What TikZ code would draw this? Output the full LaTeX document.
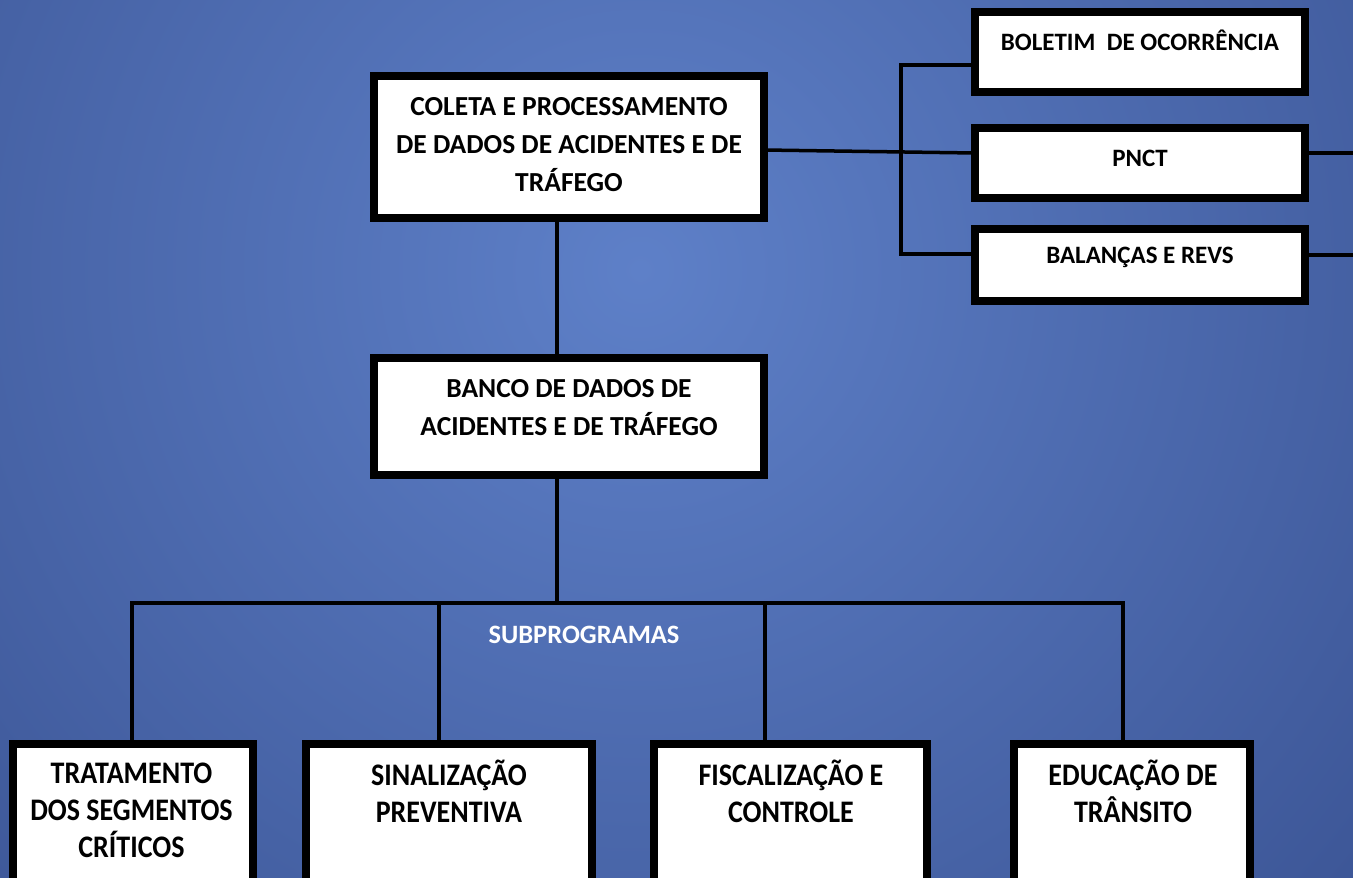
\documentclass[tikz,border=0pt]{standalone}
\usepackage{fontspec}
\setmainfont{Carlito}
\definecolor{bgin}{RGB}{94,128,200}
\definecolor{bgout}{RGB}{34,53,112}
\tikzset{
  box/.style={inner sep=0pt, outer sep=0pt},
  boxdraw/.style={draw=black, line width=8pt, fill=white},
  lbl/.style={font=\bfseries\fontsize{27.5}{38}\selectfont, align=center, text=black, inner sep=0pt},
  smalllbl/.style={font=\bfseries\fontsize{25}{30}\selectfont, align=center, text=black, inner sep=0pt},
  bottomlbl/.style={font=\bfseries\fontsize{28}{33}\selectfont, align=center, text=black, inner sep=0pt, yscale=1.12, transform shape},
  sublbl/.style={font=\bfseries\fontsize{26.5}{30}\selectfont, text=white, inner sep=0pt},
  conn/.style={draw=black, line width=3.5pt},
}
\begin{document}
\begin{tikzpicture}[x=1pt,y=-1pt]
\useasboundingbox (0,0) rectangle (1353,878);
\begin{scope}
\clip (0,0) rectangle (1353,878);
\shade[inner color=bgin, outer color=bgout] (640,270) circle (1700);

\coordinate (bus) at (557,603);
\coordinate (brkb) at (901,254);
\coordinate (edgeP) at (1353,153);
\coordinate (edgeB) at (1353,255);

\path
  node[box, minimum width=390pt, minimum height=142pt] (coleta) at (569,147) {}
  node[box, minimum width=390pt, minimum height=117pt] (banco) at (569,416.5) {}
  node[box, minimum width=330pt, minimum height=80pt] (boletim) at (1140,52) {}
  node[box, minimum width=330pt, minimum height=70pt] (pnct) at (1140,163) {}
  node[box, minimum width=330pt, minimum height=72pt] (balancas) at (1140,265) {}
  node[box, minimum width=240pt, minimum height=172pt] (trat) at (133,830) {}
  node[box, minimum width=286pt, minimum height=172pt] (sinal) at (449,830) {}
  node[box, minimum width=273pt, minimum height=172pt] (fisc) at (790.5,830) {}
  node[box, minimum width=236pt, minimum height=172pt] (educ) at (1132,830) {};

% connectors
\draw[conn] ([xshift=-12pt]coleta.south) -- ([xshift=-12pt]banco.north);
\draw[conn] ([xshift=-12pt]banco.south) -- (bus);
\draw[conn] ([xshift=-1pt]trat.north) |- (bus) -| ([xshift=-9pt]educ.north);
\draw[conn] ([xshift=-10pt]sinal.north) -- ([xshift=-10pt]sinal.north |- bus);
\draw[conn] ([xshift=-25.5pt]fisc.north) -- ([xshift=-25.5pt]fisc.north |- bus);
\draw[conn] ([yshift=-3pt]coleta.east) -- ([yshift=10pt]pnct.west);
\draw[conn] ([yshift=-13pt]boletim.west) -| (brkb) -- ([yshift=11pt]balancas.west);
\draw[conn] ([yshift=10pt]pnct.east) -- (edgeP);
\draw[conn] ([yshift=10pt]balancas.east) -- (edgeB);

% box outlines on top of connectors
\foreach \n in {coleta,banco,boletim,pnct,balancas,trat,sinal,fisc,educ}{
  \draw[boxdraw] (\n.north west) rectangle (\n.south east);
}

% texts
\node[lbl] (coletaT) at (569,145) {COLETA E PROCESSAMENTO\\DE DADOS DE ACIDENTES E DE\\TRÁFEGO};
\node[lbl] (bancoT) at (569,408) {BANCO DE DADOS DE\\ACIDENTES E DE TRÁFEGO};
\node[smalllbl] (boletimT) at (1140,40) {BOLETIM\ \ DE OCORRÊNCIA};
\node[smalllbl] (pnctT) at (1140,158) {PNCT};
\node[smalllbl] (balancasT) at (1140,257) {BALANÇAS E REVS};
\node[sublbl] (subT) at (584,635) {SUBPROGRAMAS};
\node[bottomlbl] (tratT) at (131.5,810) {TRATAMENTO\\DOS SEGMENTOS\\CRÍTICOS};
\node[bottomlbl] (sinalT) at (449,791.5) {SINALIZAÇÃO\\PREVENTIVA};
\node[bottomlbl] (fiscT) at (791,791.5) {FISCALIZAÇÃO E\\CONTROLE};
\node[bottomlbl] (educT) at (1133,791.5) {EDUCAÇÃO DE\\TRÂNSITO};
\end{scope}
\end{tikzpicture}
\end{document}
